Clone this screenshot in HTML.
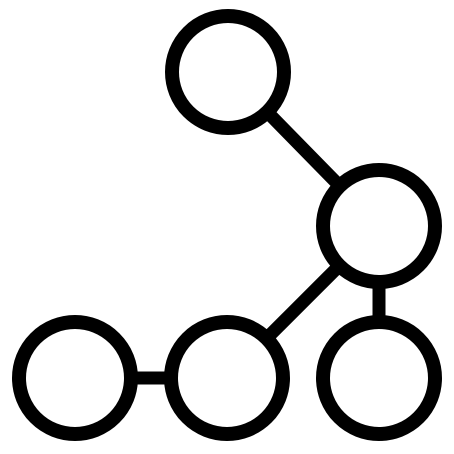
<!DOCTYPE html>
<html>
<head>
<meta charset="utf-8">
<style>
html,body{margin:0;padding:0;background:#fff;}
svg{display:block;}
</style>
</head>
<body>
<svg id="chart" width="454" height="454" viewBox="0 0 454 454"></svg>
<script>
const nodeX = [228, 379, 75, 227, 379];
const nodeY = [72, 226, 378, 378, 378];
const edgeFrom = [0, 1, 1, 2];
const edgeTo = [1, 3, 4, 3];

const R = 56;
const svg = document.getElementById('chart');
const NS = 'http://www.w3.org/2000/svg';

for (let i = 0; i < edgeFrom.length; i++) {
  const a = edgeFrom[i], b = edgeTo[i];
  const x1 = nodeX[a], y1 = nodeY[a], x2 = nodeX[b], y2 = nodeY[b];
  const dx = x2 - x1, dy = y2 - y1, d = Math.hypot(dx, dy);
  const ux = dx / d, uy = dy / d;
  const l = document.createElementNS(NS, 'line');
  l.setAttribute('x1', x1 + ux * R);
  l.setAttribute('y1', y1 + uy * R);
  l.setAttribute('x2', x2 - ux * R);
  l.setAttribute('y2', y2 - uy * R);
  l.setAttribute('stroke', '#000');
  l.setAttribute('stroke-width', '13');
  
  
  svg.appendChild(l);
}

for (let i = 0; i < nodeX.length; i++) {
  const c = document.createElementNS(NS, 'circle');
  c.setAttribute('cx', nodeX[i]);
  c.setAttribute('cy', nodeY[i]);
  c.setAttribute('r', R);
  c.setAttribute('fill', '#fff');
  c.setAttribute('stroke', '#000');
  c.setAttribute('stroke-width', '14');
  
  
  svg.appendChild(c);
}
</script>
</body>
</html>
